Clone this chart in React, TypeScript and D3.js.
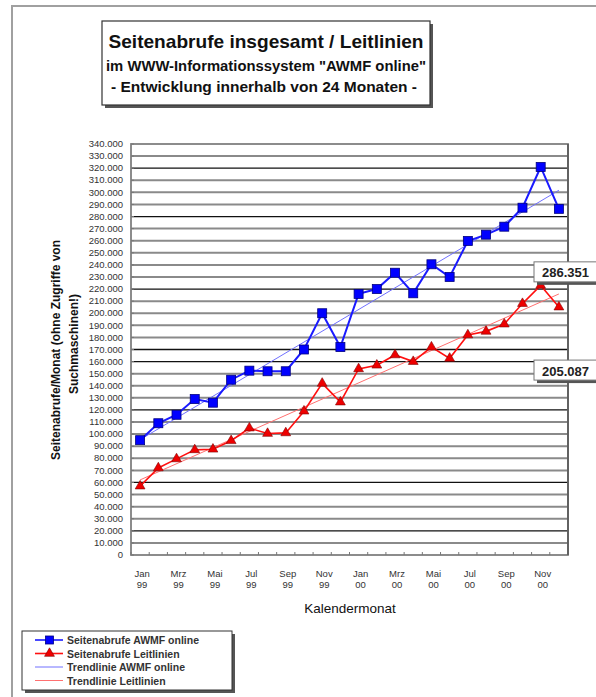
import React from "react";
import * as d3 from "d3";

const months = ["Jan","Feb","Mrz","Apr","Mai","Jun","Jul","Aug","Sep","Okt","Nov","Dez"];
const years = ["99","00"];
const categories: string[] = years.flatMap((y) => months.map((m) => `${m} ${y}`));

const awmf = [95000,109000,116000,129000,126000,145000,152500,152000,152000,170000,200000,172000,
  216000,220000,233500,216500,240500,230000,259800,265000,271600,287300,321000,286351];
const leitlinien = [57000,72000,79500,87000,87500,94500,105000,100500,101000,119000,142000,126500,
  154000,157000,165500,160000,172000,162700,182000,185000,191000,208000,223000,205087];

const yTicks = d3.range(0, 340001, 10000);
const darkGrid = [20000, 60000, 120000, 160000, 170000, 220000, 280000, 320000];

const titleLines = [
  "Seitenabrufe insgesamt / Leitlinien",
  "im WWW-Informationssystem \"AWMF online\"",
  "- Entwicklung innerhalb von 24 Monaten -",
];
const yLabelLines = ["Seitenabrufe/Monat (ohne Zugriffe von", "Suchmaschinen!)"];
const xLabel = "Kalendermonat";
const legendItems = [
  "Seitenabrufe AWMF online",
  "Seitenabrufe Leitlinien",
  "Trendlinie AWMF online",
  "Trendlinie Leitlinien",
];

const FONT = "'Liberation Sans', Arial, sans-serif";

function fmt(v: number) {
  if (v === 0) return "0";
  return d3.format(",")(v).replace(/,/g, ".");
}

function regression(vals: number[]) {
  const n = vals.length;
  const xs = vals.map((_, i) => i);
  const mx = d3.mean(xs)!;
  const my = d3.mean(vals)!;
  let num = 0, den = 0;
  for (let i = 0; i < n; i++) { num += (xs[i] - mx) * (vals[i] - my); den += (xs[i] - mx) ** 2; }
  const b = num / den;
  const a = my - b * mx;
  return (i: number) => a + b * i;
}

export default function App() {
  const W = 596, H = 697;
  const plot = { left: 131, right: 568, top: 144, bottom: 555 };
  const x = d3.scaleBand<string>().domain(categories).range([plot.left, plot.right]);
  const cx = (i: number) => x(categories[i])! + x.bandwidth() / 2;
  const y = d3.scaleLinear().domain([0, 340000]).range([plot.bottom, plot.top]);

  const line = d3.line<number>().x((_, i) => cx(i)).y((d) => y(d));
  const trA = regression(awmf);
  const trL = regression(leitlinien);
  const n = categories.length;

  const tri = d3.symbol().type(d3.symbolTriangle).size(42)()!;

  const lastA = awmf[n - 1];
  const lastL = leitlinien[n - 1];

  return (
    <svg width={W} height={H} style={{ position: "absolute", left: 0, top: 0, background: "#fff" }} fontFamily={FONT}>
      {/* outer frame */}
      <rect x={12} y={6} width={W} height={H} fill="none" stroke="#a0a0a0" strokeWidth={2} />

      {/* title box */}
      <rect x={105} y={24} width={328} height={84} fill="#555" />
      <rect x={102} y={21} width={328} height={84} fill="#fff" stroke="#333" strokeWidth={1.2} />
      <text x={266} y={48} textAnchor="middle" fontSize={19} fontWeight="bold" fill="#111" textLength={315} lengthAdjust="spacingAndGlyphs">{titleLines[0]}</text>
      <text x={266} y={71} textAnchor="middle" fontSize={14.5} fontWeight="bold" fill="#111" textLength={320} lengthAdjust="spacingAndGlyphs">{titleLines[1]}</text>
      <text x={264} y={92} textAnchor="middle" fontSize={14.5} fontWeight="bold" fill="#111" textLength={306} lengthAdjust="spacingAndGlyphs">{titleLines[2]}</text>

      {/* gridlines */}
      {yTicks.map((t) => {
        if (t === 0 || t === 340000) return null;
        const dark = darkGrid.includes(t);
        return (
          <line key={t} x1={plot.left} x2={plot.right} y1={y(t)} y2={y(t)}
            stroke={dark ? "#111" : "#8a8a8a"} strokeWidth={dark ? 1.3 : 2} />
        );
      })}
      {/* plot border */}
      <rect x={plot.left} y={plot.top} width={plot.right - plot.left} height={plot.bottom - plot.top}
        fill="none" stroke="#808080" strokeWidth={1.8} />
      <line x1={plot.right} x2={plot.right} y1={plot.top} y2={plot.bottom} stroke="#555" strokeWidth={1.5} />

      {/* y ticks & labels */}
      {yTicks.map((t) => (
        <g key={"yt" + t}>
          <line x1={plot.left} x2={plot.left + 3} y1={y(t)} y2={y(t)} stroke="#777" strokeWidth={1} />
          <text x={123} y={y(t) + 3.2} textAnchor="end" fontSize={9.5} fill="#333">{fmt(t)}</text>
        </g>
      ))}

      {/* x ticks */}
      {categories.map((c, i) => (
        <line key={"xt" + i} x1={x(c)!} x2={x(c)!} y1={plot.bottom} y2={plot.bottom - 3} stroke="#777" strokeWidth={1} />
      ))}
      {categories.map((c, i) => {
        if (i % 2 !== 0) return null;
        const [m, yy] = c.split(" ");
        return (
          <g key={"xl" + i}>
            <text x={cx(i) + 2} y={577} textAnchor="middle" fontSize={9.5} fill="#333">{m}</text>
            <text x={cx(i) + 2} y={588} textAnchor="middle" fontSize={9.5} fill="#333">{yy}</text>
          </g>
        );
      })}

      {/* axis titles */}
      <text x={350} y={613} textAnchor="middle" fontSize={13.5} fill="#111">{xLabel}</text>
      <text transform={`translate(60,350) rotate(-90)`} textAnchor="middle" fontSize={12} fontWeight="bold" fill="#111">{yLabelLines[0]}</text>
      <text transform={`translate(78,344) rotate(-90)`} textAnchor="middle" fontSize={12} fontWeight="bold" fill="#111">{yLabelLines[1]}</text>

      {/* trendlines */}
      <line x1={cx(0)} y1={y(trA(0))} x2={cx(n - 1)} y2={y(trA(n - 1))} stroke="#7070ff" strokeWidth={1} />
      <line x1={cx(0)} y1={y(trL(0))} x2={cx(n - 1)} y2={y(trL(n - 1))} stroke="#ff7070" strokeWidth={1} />

      {/* series lines */}
      <path d={line(awmf)!} fill="none" stroke="#1a1aff" strokeWidth={2} />
      <path d={line(leitlinien)!} fill="none" stroke="#ff1010" strokeWidth={1.6} />

      {/* markers */}
      {awmf.map((v, i) => (
        <rect key={"a" + i} x={cx(i) - 4.5} y={y(v) - 4.5} width={9} height={9} fill="#0000ff" stroke="#000080" strokeWidth={0.8} />
      ))}
      {leitlinien.map((v, i) => (
        <path key={"l" + i} d={tri} transform={`translate(${cx(i)},${y(v)})`} fill="#ee0000" stroke="#800000" strokeWidth={0.6} />
      ))}

      {/* data labels */}
      {[lastA, lastL].map((v, k) => {
        const cy = y(v) + 64;
        return (
          <g key={"dl" + k}>
            <rect x={537} y={cy - 8} width={70} height={20} fill="#555" />
            <rect x={534} y={cy - 11} width={70} height={20} fill="#fff" stroke="#777" strokeWidth={1} />
            <text x={542} y={cy + 4.5} fontSize={13} fontWeight="bold" fill="#222">{fmt(v)}</text>
          </g>
        );
      })}

      {/* legend */}
      <rect x={25} y={634} width={210} height={59} fill="#555" />
      <rect x={22} y={631} width={210} height={59} fill="#fff" stroke="#333" strokeWidth={1} />
      {legendItems.map((t, i) => {
        const ly = 640 + i * 13.5;
        const col = i % 2 === 0 ? (i === 0 ? "#1a1aff" : "#7070ff") : (i === 1 ? "#ff1010" : "#ff7070");
        return (
          <g key={"lg" + i}>
            <line x1={35} x2={63} y1={ly} y2={ly} stroke={col} strokeWidth={i < 2 ? 1.6 : 1} />
            {i === 0 && <rect x={45.5} y={ly - 4} width={8} height={8} fill="#0000ff" stroke="#000080" strokeWidth={0.8} />}
            {i === 1 && <path d={tri} transform={`translate(49.5,${ly})`} fill="#ee0000" stroke="#800000" strokeWidth={0.6} />}
            <text x={67} y={ly + 4} fontSize={10.5} fontWeight="bold" fill="#333">{t}</text>
          </g>
        );
      })}
    </svg>
  );
}
